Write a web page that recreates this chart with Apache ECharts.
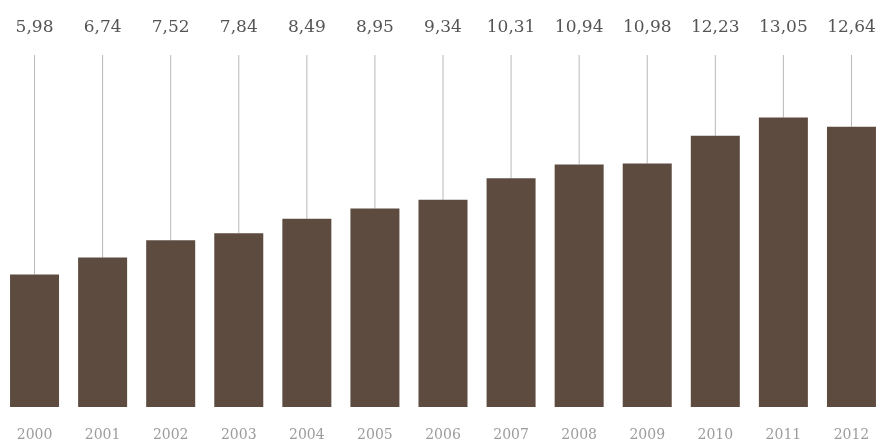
<!DOCTYPE html>
<html>
<head>
<meta charset="utf-8">
<script src="https://cdn.jsdelivr.net/npm/echarts@6/dist/echarts.min.js"></script>
<style>
  html, body { margin: 0; padding: 0; background: #ffffff; }
  #chart { width: 879px; height: 446px; }
</style>
</head>
<body>
<div id="chart"></div>
<script>
// Yearly values, 2000–2012
const years = ['2000', '2001', '2002', '2003', '2004', '2005', '2006',
               '2007', '2008', '2009', '2010', '2011', '2012'];
const values = [5.98, 6.74, 7.52, 7.84, 8.49, 8.95, 9.34,
                10.31, 10.94, 10.98, 12.23, 13.05, 12.64];
const valueLabels = ['5,98', '6,74', '7,52', '7,84', '8,49', '8,95', '9,34',
                     '10,31', '10,94', '10,98', '12,23', '13,05', '12,64'];

// Leader lines run from each bar up to this level; the value text sits above it
const LEADER_TOP = 15.87;
const LABEL_LEVEL = 17.13;

const chart = echarts.init(document.getElementById('chart'));

chart.setOption({
  animation: false,
  backgroundColor: '#ffffff',
  grid: { left: 0.5, right: -6.5, top: 7.8, bottom: 39, containLabel: false, outerBoundsMode: 'none' },
  xAxis: {
    type: 'category',
    data: years,
    axisLine: { show: false },
    axisTick: { show: false },
    axisLabel: {
      color: '#9c9c9c',
      fontFamily: 'DejaVu Serif',
      fontSize: 14,
      margin: 21
    }
  },
  yAxis: {
    type: 'value',
    min: 0,
    max: 18,
    show: false,
    splitLine: { show: false }
  },
  series: [
    {
      type: 'bar',
      data: values,
      barWidth: 49,
      itemStyle: { color: '#5d4b40' },
      z: 2
    },
    {
      type: 'custom',
      data: values.map((v, i) => [i, v]),
      z: 1,
      renderItem: function (params, api) {
        const i = api.value(0);
        const v = api.value(1);
        const barTop = api.coord([i, v]);
        const lineTop = api.coord([i, LEADER_TOP]);
        const labelPos = api.coord([i, LABEL_LEVEL]);
        return {
          type: 'group',
          children: [
            {
              type: 'line',
              shape: { x1: barTop[0], y1: barTop[1], x2: lineTop[0], y2: lineTop[1] },
              style: { stroke: '#b8b8b8', lineWidth: 1 }
            },
            {
              type: 'text',
              x: labelPos[0],
              y: labelPos[1],
              style: {
                text: valueLabels[params.dataIndex],
                fill: '#555555',
                font: '17px "DejaVu Serif"',
                textAlign: 'center',
                textVerticalAlign: 'middle'
              }
            }
          ]
        };
      }
    }
  ]
});
</script>
</body>
</html>
